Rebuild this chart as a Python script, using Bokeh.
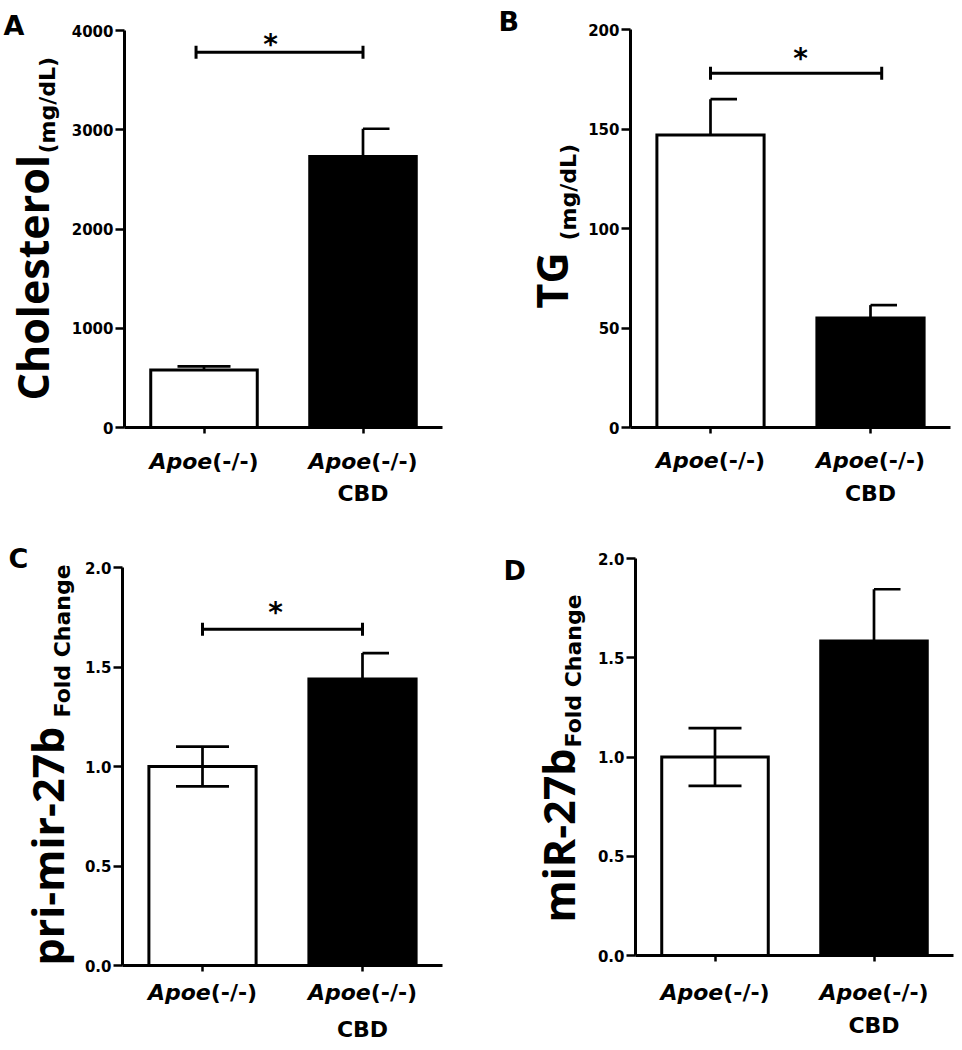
import math
from bokeh.plotting import figure
from bokeh.models import Label, FixedTicker, NumeralTickFormatter, Range1d
from bokeh.layouts import column, row
from bokeh.embed import file_html
from bokeh.resources import INLINE

# ---------------- data ----------------
categories = ["Apoe(-/-)", "Apoe(-/-) CBD"]
cat_x = [1, 2]
bar_fill = ["white", "black"]

chol_mean = [580, 2730]
chol_sem = [35, 280]
chol_ticks = [0, 1000, 2000, 3000, 4000]

tg_mean = [147, 55]
tg_sem = [18, 6.5]
tg_ticks = [0, 50, 100, 150, 200]

primir_mean = [1.0, 1.44]
primir_sem = [0.10, 0.13]
primir_ticks = [0, 0.5, 1.0, 1.5, 2.0]

mir_mean = [1.0, 1.585]
mir_sem = [0.145, 0.26]
mir_ticks = [0, 0.5, 1.0, 1.5, 2.0]

# significance brackets: (x start, x end, level)
chol_sig = (0.95, 2.0, 3780)
tg_sig = (1.0, 2.07, 178)
primir_sig = (1.0, 2.0, 1.69)
mir_sig = None

BIG = "Open Sans"
SMALL = "DejaVu Sans"
# empirical baseline correction (fraction of font size) per font
SHIFT = {BIG: 0.48, SMALL: 0.37}


def make_panel(spec):
    gx, gy, gw, gh = spec["fig"]
    fl, fr, ft, fb = spec["area"]
    ticks = spec["ticks"]
    top = ticks[-1]
    ppu = (fr - fl) / 2.0
    ppy = (fb - ft) / float(top)
    xs = 0.5 - (fl - gx) / ppu
    xe = 2.5 + (gx + gw - fr) / ppu
    ys = 0 - (gy + gh - fb) / ppy
    ye = top + (ft - gy) / ppy
    p = figure(width=gw, height=gh, x_range=Range1d(xs, xe), y_range=Range1d(ys, ye),
               output_backend="svg", toolbar_location=None,
               min_border=0, min_border_left=0, min_border_right=0,
               min_border_top=0, min_border_bottom=0)
    p.outline_line_color = None
    p.background_fill_color = "white"
    p.border_fill_color = "white"
    p.xgrid.visible = False
    p.ygrid.visible = False

    def dx(px):
        return xs + (px - gx) / ppu

    def dy(py):
        return ys + (gy + gh - py) / ppy

    def text(px, py, s, font, size, style="bold", align="left", rotated=False, xdata=None):
        k = SHIFT[font] * size
        if rotated:
            px = px - k
        else:
            py = py - k
        x = xdata if xdata is not None else dx(px)
        p.add_layout(Label(x=x, y=dy(py), text=s, text_font=font, text_font_style=style,
                           text_font_size="%dpx" % size, angle=(math.pi / 2 if rotated else 0),
                           text_align=align, text_baseline="alphabetic", text_color="black"))

    # axes (library axes, fixed at the data origin)
    ya = p.yaxis[0]
    ya.fixed_location = 0.5
    ya.bounds = (0, top)
    ya.ticker = FixedTicker(ticks=ticks)
    if spec.get("fmt"):
        ya.formatter = NumeralTickFormatter(format=spec["fmt"])
    ya.axis_line_width = 3
    ya.major_tick_line_width = 2.5
    ya.major_tick_out = 9
    ya.major_tick_in = 0
    ya.minor_tick_line_color = None
    ya.major_label_standoff = 2
    ya.major_label_text_font = SMALL
    ya.major_label_text_font_style = "bold"
    ya.major_label_text_font_size = "15px"
    ya.major_label_text_color = "black"

    xa = p.xaxis[0]
    xa.fixed_location = 0
    xa.bounds = (0.5, 2.5)
    xa.ticker = FixedTicker(ticks=cat_x)
    xa.major_label_overrides = {1: "", 2: ""}
    xa.axis_line_width = 3
    xa.major_tick_line_width = 2.5
    xa.major_tick_out = 6
    xa.major_tick_in = 0
    xa.minor_tick_line_color = None

    mean = spec["mean"]
    sem = spec["sem"]
    p.vbar(x=cat_x, top=mean, bottom=0, width=0.67, fill_color=bar_fill,
           line_color="black", line_width=3, line_join="miter")

    # error bars
    both = spec["both"]
    lo = [m - s if both else m for m, s in zip(mean, sem)]
    hi = [m + s for m, s in zip(mean, sem)]
    p.segment(x0=cat_x, y0=lo, x1=cat_x, y1=hi, line_color="black", line_width=2.7)
    cap = 26.5 / ppu
    capl = [x - (cap if c == "full" else 0) for x, c in zip(cat_x, spec["caps"])]
    capr = [x + cap for x in cat_x]
    p.segment(x0=capl, y0=hi, x1=capr, y1=hi, line_color="black", line_width=2.7)
    if both:
        p.segment(x0=capl, y0=lo, x1=capr, y1=lo, line_color="black", line_width=2.7)

    # significance
    sig = spec["sig"]
    if sig is not None:
        x0, x1, lvl = sig
        p.segment(x0=[x0], y0=[lvl], x1=[x1], y1=[lvl], line_color="black", line_width=3)
        p.scatter(x=[x0, x1], y=[lvl, lvl], marker="dash", angle=math.pi / 2, size=13,
                  line_color="black", line_width=3)
        sx, sy = spec["star"]
        text(sx, sy + 15, "*", SMALL, 28, align="center")

    # panel letter
    lx, ly = spec["letter_pos"]
    text(lx, ly, spec["letter"], SMALL, 27)

    # y labels (rotated)
    bx, by = spec["big_pos"]
    text(bx, by, spec["big"], BIG, 43, rotated=True)
    sx2, sy2 = spec["small_pos"]
    text(sx2, sy2, spec["small"], SMALL, 22, rotated=True)

    # x category labels
    yb1, yb2 = spec["xlab_base"]
    for i, c in enumerate(cat_x):
        split = c + 8.2 / ppu
        text(0, yb1, "Apoe", SMALL, 22, style="bold italic", align="right", xdata=split)
        text(0, yb1, "(-/-)", SMALL, 22, align="left", xdata=split)
        if i == 1:
            text(0, yb2, "CBD", SMALL, 22, align="center", xdata=c)
    return p


specA = dict(fig=(0, 0, 480, 520), area=(124, 442, 30, 427),
             ticks=chol_ticks, fmt=None, mean=chol_mean, sem=chol_sem, both=False,
             caps=["full", "right"], sig=chol_sig, star=(270, 39),
             letter="A", letter_pos=(3, 35),
             big="Cholesterol", big_pos=(53, 400), small="(mg/dL)", small_pos=(55, 153),
             xlab_base=(469, 501))
specB = dict(fig=(480, 0, 482, 520), area=(630, 950, 29, 427),
             ticks=tg_ticks, fmt=None, mean=tg_mean, sem=tg_sem, both=False,
             caps=["right", "right"], sig=tg_sig, star=(800, 53),
             letter="B", letter_pos=(498, 31),
             big="TG", big_pos=(572, 308), small="(mg/dL)", small_pos=(576, 240),
             xlab_base=(468, 501))
specC = dict(fig=(0, 520, 480, 530), area=(122, 442, 567, 965),
             ticks=primir_ticks, fmt="0.0", mean=primir_mean, sem=primir_sem, both=True,
             caps=["full", "right"], sig=primir_sig, star=(275, 607),
             letter="C", letter_pos=(8, 568),
             big="pri-mir-27b", big_pos=(68, 965), small="Fold  Change", small_pos=(70, 717),
             xlab_base=(1000, 1037))
specD = dict(fig=(480, 520, 482, 530), area=(635, 953, 558, 955),
             ticks=mir_ticks, fmt="0.0", mean=mir_mean, sem=mir_sem, both=True,
             caps=["full", "right"], sig=mir_sig, star=None,
             letter="D", letter_pos=(503, 580),
             big="miR-27b", big_pos=(579, 922), small="Fold  Change", small_pos=(581, 747),
             xlab_base=(1000, 1033))

pA = make_panel(specA)
pB = make_panel(specB)
pC = make_panel(specC)
pD = make_panel(specD)

layout = column(row(pA, pB), row(pC, pD))
open("out.html", "w").write(file_html(layout, INLINE))
